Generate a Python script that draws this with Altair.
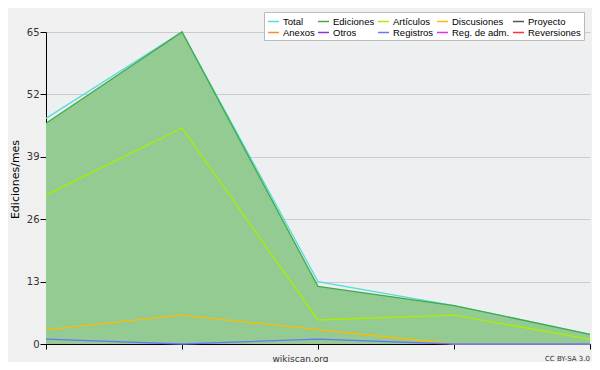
import altair as alt
import pandas as pd

months = [0, 1, 2, 3, 4]
total = [47, 65, 13, 8, 2]
ediciones = [46, 65, 12, 8, 2]
articulos = [31, 45, 5, 6, 1]
discusiones = [3, 6, 3, 0, 0]
registros = [1, 0, 1, 0, 0]

series_names = ["Total", "Ediciones", "Artículos", "Discusiones", "Proyecto",
                "Anexos", "Otros", "Registros", "Reg. de adm.", "Reversiones"]
series_colors = ["#55dddd", "#44aa44", "#aaee00", "#ffbb00", "#555555",
                 "#ff8833", "#8833dd", "#6677ff", "#dd33ee", "#ff3333"]

y_ticks = [0, 3.25, 6.5, 9.75, 13, 16.25, 19.5, 22.75, 26, 29.25, 32.5, 35.75,
           39, 42.25, 45.5, 48.75, 52, 55.25, 58.5, 61.75, 65]

rows = []
for name, vals in [("Total", total), ("Ediciones", ediciones), ("Artículos", articulos),
                   ("Discusiones", discusiones), ("Registros", registros)]:
    for m, v in zip(months, vals):
        rows.append({"serie": name, "mes": m, "valor": v})
df = pd.DataFrame(rows)
df_area = pd.DataFrame({"mes": months, "valor": ediciones})

W, H = 544, 312

x_enc = alt.X("mes:Q", scale=alt.Scale(domain=[0, 4], nice=False),
              axis=alt.Axis(values=months, labels=False, grid=False, tickSize=5,
                            tickColor="#000000", domainColor="#000000",
                            title="wikiscan.org", titleFontSize=9,
                            titleFont="DejaVu Sans", titleFontWeight="normal",
                            titleColor="#333333", titleX=254, titleY=14,
                            titleAlign="center", titleBaseline="middle"))
y_enc = alt.Y("valor:Q", scale=alt.Scale(domain=[0, 65], nice=False),
              axis=alt.Axis(values=y_ticks,
                            labelExpr="datum.value % 13 === 0 ? datum.label : ''",
                            tickSize={"condition": {"test": "datum.value % 13 === 0", "value": 6}, "value": 3},
                            gridOpacity={"condition": {"test": "datum.value % 13 === 0", "value": 1}, "value": 0},
                            gridColor="#cccccc", tickColor="#000000", domainColor="#000000",
                            labelFont="DejaVu Sans", labelFontSize=10, labelColor="#333333",
                            labelPadding=1,
                            title="Ediciones/mes", titleFont="DejaVu Sans", titleFontSize=11,
                            titleFontWeight="normal", titleColor="#000000",
                            titleX=-31, titleY=147, titleAlign="center",
                            titleBaseline="middle", titleAngle=270))

area = alt.Chart(df_area).mark_area(color="#93cb93", opacity=1).encode(x=x_enc, y=y_enc)

color_scale = alt.Scale(domain=series_names, range=series_colors)

lines = alt.Chart(df).mark_line(strokeWidth=1.3).encode(
    x="mes:Q", y="valor:Q",
    color=alt.Color("serie:N", scale=color_scale, sort=series_names,
                    legend=alt.Legend(orient="none", legendX=218, legendY=-20, columns=5,
                                      direction="horizontal",
                                      title=None, symbolType="stroke", symbolSize=121,
                                      symbolStrokeWidth=1.5, labelFont="Liberation Sans",
                                      labelFontSize=9.5, labelColor="#000000",
                                      fillColor="#ffffff", strokeColor="#bbbbbb",
                                      padding=3, rowPadding=0, columnPadding=0,
                                      labelOffset=3, labelLimit=200)),
    detail="serie:N",
    order=alt.Order("mes:Q"),
)

cc = alt.Chart(pd.DataFrame({"t": ["CC BY-SA 3.0"]})).mark_text(
    align="right", baseline="middle", fontSize=7, font="DejaVu Sans", color="#333333"
).encode(text="t:N", x=alt.value(W), y=alt.value(H + 15))

chart = alt.layer(area, lines, cc).properties(
    width=W, height=H,
    title=alt.TitleParams("Fanamon", anchor="start", dx=75, offset=3, fontSize=12,
                          font="Liberation Sans", fontWeight="bold", color="#000000"),
    autosize=alt.AutoSizeParams(type="none"),
    padding={"left": 38, "top": 24, "right": 2, "bottom": 18},
    background="#f0f0f0",
).configure_view(fill="#eeeff1", stroke=None)

chart.save("out.html", embed_options={"renderer": "svg", "actions": False})
